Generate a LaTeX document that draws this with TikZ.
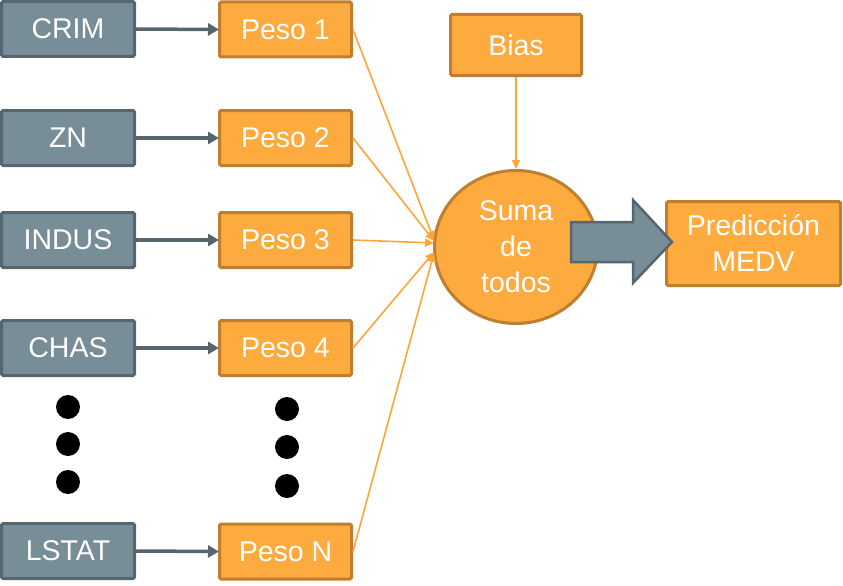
\documentclass[tikz,border=0pt]{standalone}
\usepackage{fontspec}
\setmainfont{Liberation Sans}
\usetikzlibrary{arrows.meta,shapes.geometric}
\definecolor{gfill}{HTML}{778D98}
\definecolor{gdraw}{HTML}{56666F}
\definecolor{ofill}{HTML}{FDAA3F}
\definecolor{odraw}{HTML}{BF7F2E}
\definecolor{oline}{HTML}{FCA63A}
\begin{document}
\begin{tikzpicture}[x=1pt,y=-1pt,
  txt/.style={text=white,font=\fontsize{28.5}{36}\selectfont,align=center},
  inbox/.style={txt,draw=gdraw,fill=gfill,line width=3pt,rounded corners=1.5pt,minimum width=133pt,minimum height=55pt,inner sep=0pt},
  wbox/.style={txt,draw=odraw,fill=ofill,line width=3pt,rounded corners=1.5pt,minimum width=132pt,minimum height=55pt,inner sep=0pt},
  garrow/.style={draw=gdraw,line width=3.5pt,-{Triangle[length=11pt,width=12pt]},shorten >=-1pt},
  oarrow/.style={draw=oline,line width=1.6pt,-{Triangle[length=9pt,width=8pt]}},
  dot/.style={circle,fill=black,minimum size=24pt,inner sep=0pt}]
\useasboundingbox (0,0) rectangle (843,586);
% inputs
\node[inbox] (i1) at (68,29) {CRIM};
\node[inbox] (i2) at (68,138) {ZN};
\node[inbox] (i3) at (68,240) {INDUS};
\node[inbox] (i4) at (68,348) {CHAS};
\node[inbox] (i5) at (68,551) {LSTAT};
% weights
\node[wbox] (w1) at (285.5,29.5) {Peso 1};
\node[wbox] (w2) at (285.5,138) {Peso 2};
\node[wbox] (w3) at (285.5,240) {Peso 3};
\node[wbox] (w4) at (285.5,348) {Peso 4};
\node[wbox] (w5) at (285.5,551.5) {Peso N};
% dots
\node[dot] (dl1) at (68,407) {};
\node[dot] (dl2) at (68,444) {};
\node[dot] (dl3) at (68,482) {};
\node[dot] (dr1) at (287,409) {};
\node[dot] (dr2) at (287,447) {};
\node[dot] (dr3) at (287,486) {};
% bias, sum, prediction
\node[wbox,minimum width=131pt,minimum height=61pt] (bias) at (516,45) {Bias};
\node[txt,draw=odraw,fill=ofill,line width=3pt,ellipse,minimum width=163pt,minimum height=153pt,inner sep=0pt] (sum) at (516,247) {Suma\\de\\todos};
\node[wbox,minimum width=174pt,minimum height=84pt] (pred) at (753.5,243.5) {Predicción\\MEDV};
% connectors
\foreach \k in {1,...,5} \draw[garrow] (i\k.east) -- (w\k.west);
\coordinate (t1) at (434,240);
\coordinate (t2) at (434,241);
\coordinate (t3) at (434,243);
\coordinate (t4) at (434,252);
\coordinate (t5) at (434,253);
\foreach \k in {1,...,5} \draw[oarrow] (w\k.east) -- (t\k);
\draw[oarrow] (bias.south) -- (sum.north);
% big arrow
\draw[draw=gdraw,fill=gfill,line width=2.5pt,line join=miter]
  (571,222) -- (633,222) -- (633,200) -- (672,242) -- (633,283) -- (633,262) -- (571,262) -- cycle;
\end{tikzpicture}
\end{document}
